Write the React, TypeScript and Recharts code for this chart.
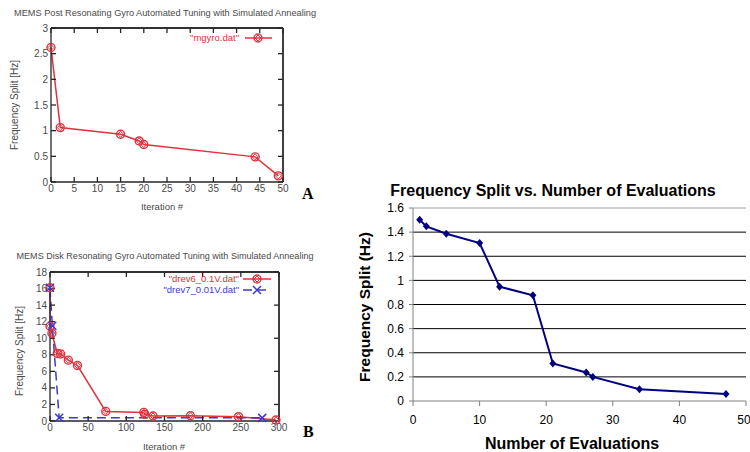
import React from 'react';
import {
  LineChart,
  Line,
  XAxis,
  YAxis,
  CartesianGrid,
  ReferenceLine,
} from 'recharts';

// Panel A: MEMS post resonating gyro (gnuplot)
const postIter = [0, 2, 15, 19, 20, 44, 49];
const postSplit = [2.62, 1.06, 0.93, 0.8, 0.73, 0.49, 0.12];
const postXTicks = [0, 5, 10, 15, 20, 25, 30, 35, 40, 45, 50];
const postYTicks = [0, 0.5, 1, 1.5, 2, 2.5, 3];

// Panel B: MEMS disk resonating gyro (gnuplot), two runs
const drev6Iter = [0, 0, 2.5, 9.5, 14, 24, 36, 73, 123, 124, 135, 184, 247, 296];
const drev6Split = [16.1, 11.45, 10.6, 8.15, 8.1, 7.35, 6.7, 1.16, 1.04, 0.8, 0.6, 0.64, 0.52, 0.12];
const drev7Iter = [0, 3, 12, 278];
const drev7Split = [16.1, 11.5, 0.4, 0.38];
const diskXTicks = [0, 50, 100, 150, 200, 250, 300];
const diskYTicks = [0, 2, 4, 6, 8, 10, 12, 14, 16, 18];

// Panel C: frequency split vs number of evaluations (Excel style)
const evals = [1, 2, 5, 10, 13, 18, 21, 26, 27, 34, 47];
const evalSplit = [1.503, 1.448, 1.387, 1.309, 0.948, 0.876, 0.311, 0.236, 0.2, 0.097, 0.058];
const evalXTicks = [0, 10, 20, 30, 40, 50];
const evalYTicks = [0, 0.2, 0.4, 0.6, 0.8, 1, 1.2, 1.4, 1.6];

const postData = postIter.map((x, i) => ({ x, y: postSplit[i] }));
const drev6Data = drev6Iter.map((x, i) => ({ x, y: drev6Split[i] }));
const drev7Data = drev7Iter.map((x, i) => ({ x, y: drev7Split[i] }));
const evalData = evals.map((x, i) => ({ x, y: evalSplit[i] }));

const RED = '#e0323c';
const BLUE = '#3a3ad0';
const NAVY = '#000080';
const GP_TEXT = '#4a4a4a';
const GP_FRAME = '#262626';
const GP_FONT = '"Liberation Sans", Arial, sans-serif';

const gpTick = { fill: GP_TEXT, fontSize: 10, fontFamily: GP_FONT };
const noLabel = () => null;

const CircleDot = (props: any) => {
  const { cx, cy } = props;
  if (cx == null || cy == null) return null;
  return (
    <g>
      <circle cx={cx} cy={cy} r={4} fill="none" stroke={RED} strokeWidth={1.4} />
      <path d={`M${cx},${cy - 3}L${cx + 3},${cy}L${cx},${cy + 3}L${cx - 3},${cy}Z`} fill="none" stroke={RED} strokeWidth={1} />
    </g>
  );
};

const CrossDot = (props: any) => {
  const { cx, cy } = props;
  if (cx == null || cy == null) return null;
  return (
    <path d={`M${cx - 4},${cy - 4}L${cx + 4},${cy + 4}M${cx - 4},${cy + 4}L${cx + 4},${cy - 4}`} stroke={BLUE} strokeWidth={1.5} />
  );
};

const DiamondDot = (props: any) => {
  const { cx, cy } = props;
  if (cx == null || cy == null) return null;
  return <path d={`M${cx},${cy - 4}L${cx + 3.5},${cy}L${cx},${cy + 4}L${cx - 3.5},${cy}Z`} fill={NAVY} />;
};

// gnuplot style frame: ticks pointing inwards on all four sides
const gpAxes = (xDomain: number[], xTicks: number[], yDomain: number[], yTicks: number[], xH: number, yW: number) => [
  <XAxis
    key="xb"
    xAxisId="b"
    dataKey="x"
    type="number"
    domain={xDomain}
    ticks={xTicks}
    height={xH}
    tick={gpTick}
    tickSize={-5}
    tickMargin={8}
    stroke={GP_FRAME}
    strokeWidth={1.3}
  />,
  <XAxis
    key="xt"
    xAxisId="t"
    dataKey="x"
    orientation="top"
    type="number"
    domain={xDomain}
    ticks={xTicks}
    height={1}
    tick={noLabel}
    tickSize={-5}
    stroke={GP_FRAME}
    strokeWidth={1.3}
  />,
  <YAxis
    key="yl"
    yAxisId="l"
    type="number"
    domain={yDomain}
    ticks={yTicks}
    width={yW}
    tick={gpTick}
    tickSize={-5}
    tickMargin={8}
    stroke={GP_FRAME}
    strokeWidth={1.3}
  />,
  <YAxis
    key="yr"
    yAxisId="r"
    orientation="right"
    type="number"
    domain={yDomain}
    ticks={yTicks}
    width={1}
    tick={noLabel}
    tickSize={-5}
    stroke={GP_FRAME}
    strokeWidth={1.3}
  />,
  <ReferenceLine key="ft" xAxisId="b" yAxisId="l" y={yDomain[1]} stroke={GP_FRAME} strokeWidth={1.3} />,
  <ReferenceLine key="fr" xAxisId="b" yAxisId="l" x={xDomain[1]} stroke={GP_FRAME} strokeWidth={1.3} />,
];

// invisible copy of a series bound to the mirror axes so the frame ticks get drawn
const frameSeries = (data: { x: number; y: number }[]) => (
  <Line
    data={data}
    xAxisId="t"
    yAxisId="r"
    dataKey="y"
    stroke="none"
    dot={false}
    activeDot={false}
    legendType="none"
    isAnimationActive={false}
  />
);

export default function App() {
  return (
    <div style={{ position: 'absolute', left: 0, top: 0, width: 750, height: 452, background: '#fff', overflow: 'hidden' }}>
      <div style={{ position: 'absolute', left: 0, top: 0 }}>
        <LineChart width={320} height={215} margin={{ top: 27, right: 36, bottom: 0, left: 0 }}>
          {gpAxes([0, 50], postXTicks, [0, 3], postYTicks, 33, 51)}
          {frameSeries(postData)}
          <Line
            data={postData}
            xAxisId="b"
            yAxisId="l"
            dataKey="y"
            type="linear"
            stroke={RED}
            strokeWidth={1.5}
            dot={<CircleDot />}
            activeDot={false}
            isAnimationActive={false}
          />
        </LineChart>
      </div>

      <div style={{ position: 'absolute', left: 0, top: 230 }}>
        <LineChart width={320} height={222} margin={{ top: 41, right: 40, bottom: 0, left: 0 }}>
          {gpAxes([0, 300], diskXTicks, [0, 18], diskYTicks, 31, 50)}
          {frameSeries(drev6Data)}
          <Line
            data={drev6Data}
            xAxisId="b"
            yAxisId="l"
            dataKey="y"
            type="linear"
            stroke={RED}
            strokeWidth={1.5}
            dot={<CircleDot />}
            activeDot={false}
            isAnimationActive={false}
          />
          <Line
            data={drev7Data}
            xAxisId="b"
            yAxisId="l"
            dataKey="y"
            type="linear"
            stroke={BLUE}
            strokeWidth={1.5}
            strokeDasharray="9 5"
            dot={<CrossDot />}
            activeDot={false}
            isAnimationActive={false}
          />
        </LineChart>
      </div>

      <div style={{ position: 'absolute', left: 350, top: 175 }}>
        <LineChart width={400} height={277} data={evalData} margin={{ top: 33, right: 4, bottom: 0, left: 0 }}>
          <CartesianGrid vertical={false} horizontalValues={[0.2, 0.4, 0.6, 0.8, 1, 1.2, 1.4]} stroke="#000" strokeWidth={1} />
          <ReferenceLine y={1.6} stroke="#a0a0a0" strokeWidth={1} />
          <XAxis
            dataKey="x"
            type="number"
            domain={[0, 50]}
            ticks={evalXTicks}
            height={51}
            tickSize={5}
            tickMargin={9}
            stroke="#808080"
            tick={{ fill: '#000', fontSize: 12, fontFamily: 'Arial, "Liberation Sans", sans-serif' }}
          />
          <YAxis
            type="number"
            domain={[0, 1.6]}
            ticks={evalYTicks}
            width={63}
            tickSize={4}
            tickMargin={5}
            stroke="#808080"
            tickFormatter={(v: number) => String(Number(v.toFixed(1)))}
            tick={{ fill: '#000', fontSize: 12, fontFamily: 'Arial, "Liberation Sans", sans-serif' }}
          />
          <Line
            dataKey="y"
            type="linear"
            stroke={NAVY}
            strokeWidth={2}
            dot={<DiamondDot />}
            activeDot={false}
            isAnimationActive={false}
          />
        </LineChart>
      </div>

      <svg width={750} height={452} style={{ position: 'absolute', left: 0, top: 0, pointerEvents: 'none' }}>
        <g fontFamily={GP_FONT} fill={GP_TEXT}>
          <text x={165} y={16} fontSize={9.5} textAnchor="middle" textLength={302} lengthAdjust="spacingAndGlyphs">
            MEMS Post Resonating Gyro Automated Tuning with Simulated Annealing
          </text>
          <text transform="translate(18,105) rotate(-90)" fontSize={10} textAnchor="middle">
            Frequency Split [Hz]
          </text>
          <text x={162} y={210} fontSize={9.5} textAnchor="middle">
            Iteration #
          </text>
          <text x={239} y={41} fontSize={9.5} textAnchor="end" fill={RED}>
            "mgyro.dat"
          </text>

          <text x={165} y={259} fontSize={9.5} textAnchor="middle" textLength={297} lengthAdjust="spacingAndGlyphs">
            MEMS Disk Resonating Gyro Automated Tuning with Simulated Annealing
          </text>
          <text transform="translate(23,351) rotate(-90)" fontSize={10} textAnchor="middle">
            Frequency Split [Hz]
          </text>
          <text x={164} y={450} fontSize={9.5} textAnchor="middle">
            Iteration #
          </text>
          <text x={239} y={282} fontSize={9.5} textAnchor="end" fill={RED}>
            "drev6_0.1V.dat"
          </text>
          <text x={239} y={293} fontSize={9.5} textAnchor="end" fill={BLUE}>
            "drev7_0.01V.dat"
          </text>
        </g>
        <line x1={245} y1={38} x2={272} y2={38} stroke={RED} strokeWidth={1.5} />
        <CircleDot cx={258} cy={38} />
        <line x1={243} y1={279} x2={271} y2={279} stroke={RED} strokeWidth={1.5} />
        <CircleDot cx={257} cy={279} />
        <line x1={243} y1={290} x2={271} y2={290} stroke={BLUE} strokeWidth={1.5} strokeDasharray="9 5" />
        <CrossDot cx={257} cy={290} />

        <g fontFamily='"Liberation Serif", "Times New Roman", serif' fontWeight="bold" fontSize={16} fill="#000">
          <text x={302} y={199}>A</text>
          <text x={303} y={437}>B</text>
        </g>

        <g fontFamily='Arial, "Liberation Sans", sans-serif' fontWeight="bold" fill="#000">
          <text x={553} y={196} fontSize={16} textAnchor="middle">
            Frequency Split vs. Number of Evaluations
          </text>
          <text x={572} y={449} fontSize={16} textAnchor="middle">
            Number of Evaluations
          </text>
          <text transform="translate(370,307) rotate(-90)" fontSize={15.5} textAnchor="middle">
            Frequency Split (Hz)
          </text>
        </g>
      </svg>
    </div>
  );
}
